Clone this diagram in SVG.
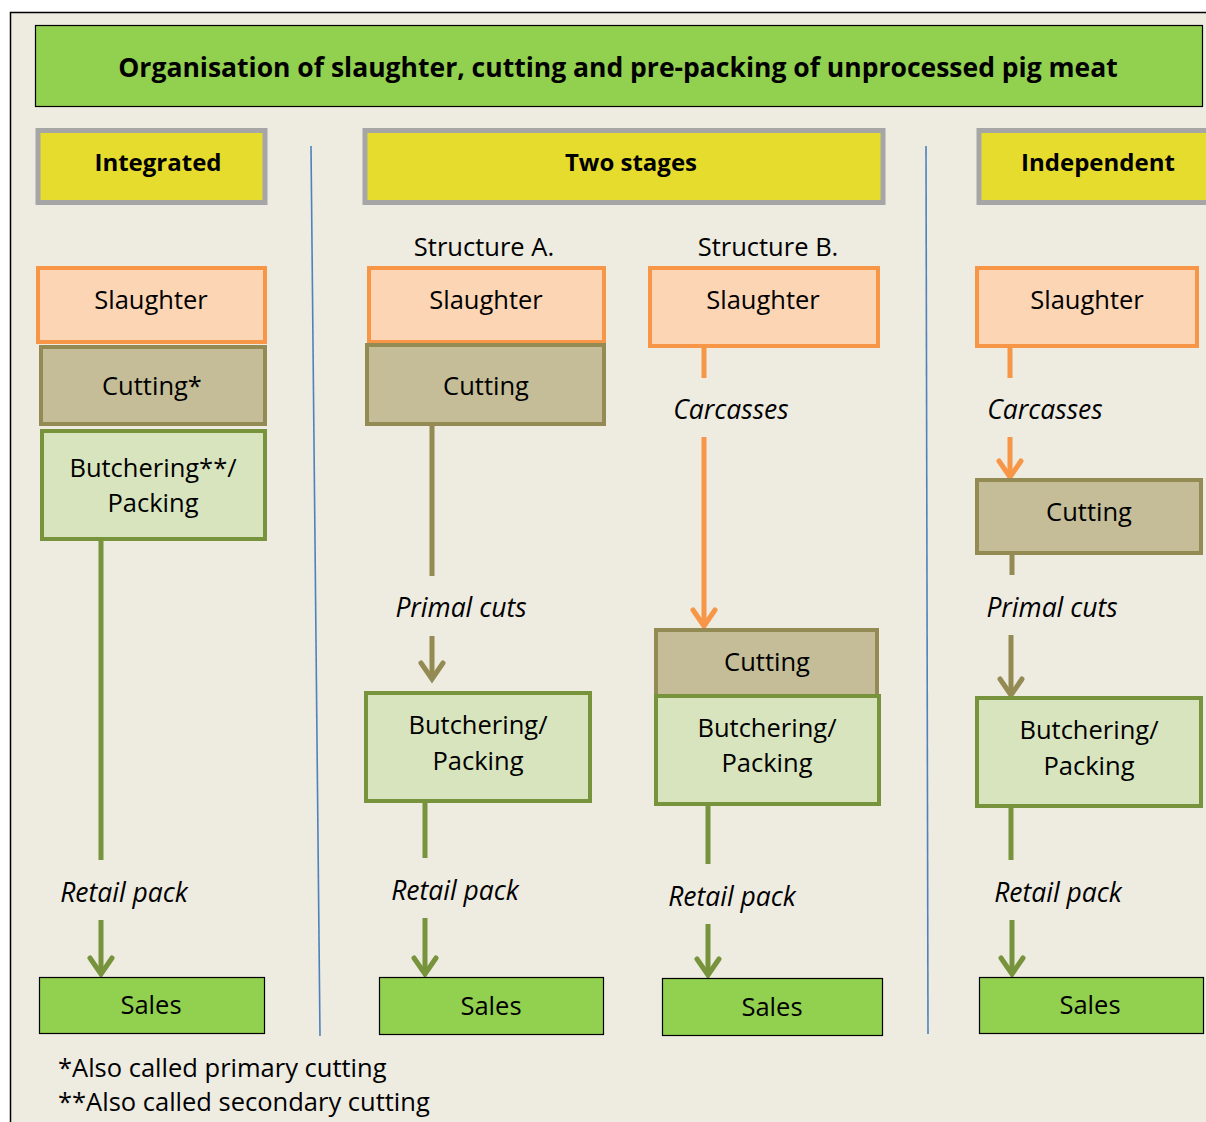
<svg xmlns="http://www.w3.org/2000/svg" width="1206" height="1122" viewBox="0 0 1206 1122">
<style>
  text { font-family: "Open Sans", Lato, "Liberation Sans", sans-serif; fill: #000; }
  .t { font-size: 25.5px; text-anchor: middle; }
  .h { font-size: 24px; font-weight: bold; text-anchor: middle; }
  .title { font-size: 26.5px; font-weight: bold; text-anchor: middle; }
  .lbl { font-size: 26.5px; font-style: italic; text-anchor: middle; }
  .fn { font-size: 25.5px; }
  .slaughter { fill: #FCD5B4; stroke: #F79646; stroke-width: 4; }
  .cutting { fill: #C4BD97; stroke: #948A54; stroke-width: 4; }
  .butch { fill: #D7E4BD; stroke: #77933C; stroke-width: 4; }
  .sales { fill: #92D050; stroke: #000; stroke-width: 1.2; }
  .head { fill: #E6DC2E; stroke: #A6A6A6; stroke-width: 5; }
  .c { fill: none; stroke-width: 5; stroke-linecap: butt; }
  .ah { fill: none; stroke-width: 5; stroke-linecap: round; stroke-linejoin: miter; }
  .o { stroke: #F79646; }
  .ol { stroke: #948A54; }
  .g { stroke: #77933C; }
  .div { stroke: #4F81BD; stroke-width: 1.6; fill: none; }
</style>
<rect x="0" y="0" width="1206" height="1122" fill="#fff"/>
<rect x="10.5" y="12.5" width="1210" height="1120" fill="#EEEBE0" stroke="#000" stroke-width="1.5"/>

<g id="title">
  <rect x="35.5" y="25.5" width="1167" height="81" fill="#92D050" stroke="#000" stroke-width="1.2"/>
  <text x="618" y="77" class="title">Organisation of slaughter, cutting and pre-packing of unprocessed pig meat</text>
</g>

<g id="hdr-integrated">
  <rect x="38" y="130.5" width="227" height="72" class="head"/>
  <text x="158" y="171" class="h">Integrated</text>
</g>
<g id="hdr-two-stages">
  <rect x="365" y="130.5" width="518" height="72" class="head"/>
  <text x="631" y="171" class="h">Two stages</text>
</g>
<g id="hdr-independent">
  <rect x="979" y="130.5" width="240" height="72" class="head"/>
  <text x="1098" y="171" class="h">Independent</text>
</g>

<g id="dividers">
  <line x1="311" y1="146" x2="320" y2="1036" class="div"/>
  <line x1="926" y1="146" x2="928" y2="1034" class="div"/>
</g>

<text x="484" y="256" class="t">Structure A.</text>
<text x="768" y="256" class="t">Structure B.</text>

<g id="connectors">
  <!-- Integrated -->
  <line x1="101" y1="540" x2="101" y2="860" class="c g"/>
  <line x1="101" y1="920" x2="101" y2="973" class="c g"/>
  <path d="M90,958 L101,974 L112,958" class="ah g"/>
  <!-- Structure A -->
  <line x1="432" y1="425" x2="432" y2="576" class="c ol"/>
  <line x1="432" y1="636" x2="432" y2="678" class="c ol"/>
  <path d="M421,663 L432,679 L443,663" class="ah ol"/>
  <line x1="425" y1="801" x2="425" y2="858" class="c g"/>
  <line x1="425" y1="918" x2="425" y2="973" class="c g"/>
  <path d="M414,958 L425,974 L436,958" class="ah g"/>
  <!-- Structure B -->
  <line x1="704" y1="346" x2="704" y2="378" class="c o"/>
  <line x1="704" y1="437" x2="704" y2="625" class="c o"/>
  <path d="M693,610 L704,626 L715,610" class="ah o"/>
  <line x1="708" y1="804" x2="708" y2="864" class="c g"/>
  <line x1="708" y1="924" x2="708" y2="974" class="c g"/>
  <path d="M697,959 L708,975 L719,959" class="ah g"/>
  <!-- Independent -->
  <line x1="1010" y1="346" x2="1010" y2="378" class="c o"/>
  <line x1="1010" y1="437" x2="1010" y2="476" class="c o"/>
  <path d="M999,461 L1010,477 L1021,461" class="ah o"/>
  <line x1="1012" y1="553" x2="1012" y2="575" class="c ol"/>
  <line x1="1011" y1="635" x2="1011" y2="694" class="c ol"/>
  <path d="M1000,679 L1011,695 L1022,679" class="ah ol"/>
  <line x1="1011" y1="806" x2="1011" y2="860" class="c g"/>
  <line x1="1012" y1="920" x2="1012" y2="973" class="c g"/>
  <path d="M1001,958 L1012,974 L1023,958" class="ah g"/>
</g>

<g id="labels">
  <text x="124" y="902" class="lbl">Retail pack</text>
  <text x="461" y="617" class="lbl">Primal cuts</text>
  <text x="455" y="900" class="lbl">Retail pack</text>
  <text x="731" y="419" class="lbl">Carcasses</text>
  <text x="732" y="906" class="lbl">Retail pack</text>
  <text x="1045" y="419" class="lbl">Carcasses</text>
  <text x="1052" y="617" class="lbl">Primal cuts</text>
  <text x="1058" y="902" class="lbl">Retail pack</text>
</g>

<!-- Integrated column -->
<g id="int-slaughter">
  <rect x="38" y="268" width="227" height="74" class="slaughter"/>
  <text x="151" y="309" class="t">Slaughter</text>
</g>
<g id="int-cutting">
  <rect x="41" y="347" width="224" height="77" class="cutting"/>
  <text x="152" y="395" class="t">Cutting*</text>
</g>
<g id="int-butchering">
  <rect x="42" y="431" width="223" height="108" class="butch"/>
  <text x="153" y="477" class="t">Butchering**/</text>
  <text x="153" y="512" class="t">Packing</text>
</g>
<g id="int-sales">
  <rect x="39.5" y="977.5" width="225" height="56" class="sales"/>
  <text x="151" y="1014" class="t">Sales</text>
</g>

<!-- Structure A -->
<g id="a-slaughter">
  <rect x="369" y="268" width="235" height="74" class="slaughter"/>
  <text x="486" y="309" class="t">Slaughter</text>
</g>
<g id="a-cutting">
  <rect x="367" y="345" width="237" height="79" class="cutting"/>
  <text x="486" y="395" class="t">Cutting</text>
</g>
<g id="a-butchering">
  <rect x="366" y="693" width="224" height="108" class="butch"/>
  <text x="478" y="734" class="t">Butchering/</text>
  <text x="478" y="770" class="t">Packing</text>
</g>
<g id="a-sales">
  <rect x="379.5" y="977.5" width="224" height="57" class="sales"/>
  <text x="491" y="1015" class="t">Sales</text>
</g>

<!-- Structure B -->
<g id="b-slaughter">
  <rect x="650" y="268" width="228" height="78" class="slaughter"/>
  <text x="763" y="309" class="t">Slaughter</text>
</g>
<g id="b-cutting">
  <rect x="656" y="630" width="221" height="66" class="cutting"/>
  <text x="767" y="671" class="t">Cutting</text>
</g>
<g id="b-butchering">
  <rect x="656" y="696" width="223" height="108" class="butch"/>
  <text x="767" y="737" class="t">Butchering/</text>
  <text x="767" y="772" class="t">Packing</text>
</g>
<g id="b-sales">
  <rect x="662.5" y="978.5" width="220" height="57" class="sales"/>
  <text x="772" y="1016" class="t">Sales</text>
</g>

<!-- Independent -->
<g id="ind-slaughter">
  <rect x="977" y="268" width="220" height="78" class="slaughter"/>
  <text x="1087" y="309" class="t">Slaughter</text>
</g>
<g id="ind-cutting">
  <rect x="977" y="480" width="224" height="73" class="cutting"/>
  <text x="1089" y="521" class="t">Cutting</text>
</g>
<g id="ind-butchering">
  <rect x="977" y="698" width="224" height="108" class="butch"/>
  <text x="1089" y="739" class="t">Butchering/</text>
  <text x="1089" y="775" class="t">Packing</text>
</g>
<g id="ind-sales">
  <rect x="979.5" y="977.5" width="224" height="56" class="sales"/>
  <text x="1090" y="1014" class="t">Sales</text>
</g>

<g id="footnotes">
  <text x="58" y="1077" class="fn">*Also called primary cutting</text>
  <text x="58" y="1111" class="fn">**Also called secondary cutting</text>
</g>
</svg>
